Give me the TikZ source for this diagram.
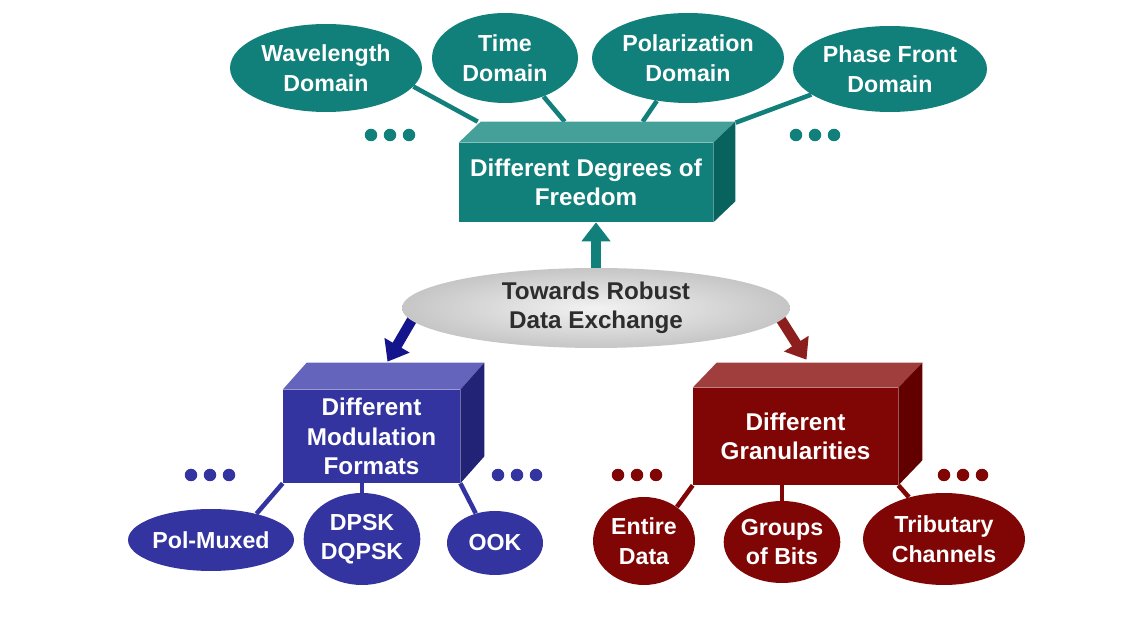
\documentclass[tikz,border=0pt]{standalone}
\usepackage{fontspec}
\setmainfont{Liberation Sans}
\usetikzlibrary{shapes.geometric,arrows.meta,calc,backgrounds}
\definecolor{dofcol}{RGB}{18,128,122}
\definecolor{doftop}{RGB}{70,160,154}
\definecolor{dofside}{RGB}{8,98,94}
\definecolor{modcol}{RGB}{52,52,160}
\definecolor{modtop}{RGB}{100,100,188}
\definecolor{modside}{RGB}{34,34,118}
\definecolor{modarrow}{RGB}{20,20,140}
\definecolor{grancol}{RGB}{128,6,6}
\definecolor{grantop}{RGB}{160,62,62}
\definecolor{granside}{RGB}{98,0,0}
\definecolor{granarrow}{RGB}{140,30,30}
\definecolor{ctrtext}{RGB}{45,45,45}
\tikzset{
  blob/.style={ellipse, fill=#1, text=white, inner sep=0pt, align=center,
    font=\fontsize{13.2}{16.8}\selectfont\bfseries},
  frontface/.style={rectangle, fill=#1, text=white, inner sep=0pt, align=center,
    font=\fontsize{13.8}{16.8}\selectfont\bfseries},
  spoke/.style={line width=2.6pt, draw=#1},
  fatarrow/.style={line width=5.8pt, draw=#1, -{Triangle[width=0.56cm,length=0.38cm]}},
  threedots/.pic={\foreach \i in {-1,0,1} \fill (\i*19,0) circle (0.125cm);}
}
% top and side faces of a solid box: node, depth, top colour, side colour
\newcommand\boxfaces[4]{%
  \fill[#3] (#1.north west) -- ++(#2) -- ($(#1.north east)+(#2)$) -- (#1.north east) -- cycle;
  \fill[#4] (#1.north east) -- ++(#2) -- ($(#1.south east)+(#2)$) -- (#1.south east) -- cycle;}
\begin{document}
\begin{tikzpicture}[x=0.02cm,y=-0.02cm]
\useasboundingbox (0,0) rectangle (1143,641);

% degrees of freedom
\node[blob=dofcol, minimum width=3.84cm, minimum height=1.76cm] (wl) at (326,68) {Wavelength\\Domain};
\node[blob=dofcol, minimum width=2.92cm, minimum height=1.8cm] (tm) at (505,58) {Time\\Domain};
\node[blob=dofcol, minimum width=3.84cm, minimum height=1.8cm] (pol) at (688,58) {Polarization\\Domain};
\node[blob=dofcol, minimum width=3.88cm, minimum height=1.72cm] (ph) at (890,69) {Phase Front\\Domain};
\node[frontface=dofcol, minimum width=5.08cm, minimum height=1.58cm] (dof) at (586,182.5) {Different Degrees of\\Freedom};
\boxfaces{dof}{22,-21}{doftop}{dofside}
\pic[dofcol] at (390,135) {threedots};
\pic[dofcol] at (815,135) {threedots};

% centre
\node[ellipse, inner sep=0pt, minimum width=7.76cm, minimum height=1.6cm,
  inner color=gray!10, outer color=gray!45, text=ctrtext, align=center,
  font=\fontsize{13.8}{16.8}\selectfont\bfseries] (ctr) at (596,308) {Towards Robust\\Data Exchange};

% modulation formats
\node[frontface=modcol, minimum width=3.54cm, minimum height=1.86cm] (mod) at (371.5,436.5) {Different\\Modulation\\Formats};
\boxfaces{mod}{24,-27}{modtop}{modside}
\node[blob=modcol, minimum width=3.32cm, minimum height=1.24cm] (pm) at (211,540) {Pol-Muxed};
\node[blob=modcol, minimum width=2.28cm, minimum height=1.84cm] (dp) at (362,539) {DPSK\\DQPSK};
\node[blob=modcol, minimum width=1.92cm, minimum height=1.28cm] (ook) at (495,543) {OOK};
\pic[modcol] at (210,475) {threedots};
\pic[modcol] at (517,475) {threedots};

% granularities
\node[frontface=grancol, minimum width=4.1cm, minimum height=1.94cm] (gran) at (795.5,436.5) {Different\\Granularities};
\boxfaces{gran}{24,-25}{grantop}{granside}
\node[blob=grancol, minimum width=2.04cm, minimum height=1.76cm] (ed) at (644,541) {Entire\\Data};
\node[blob=grancol, minimum width=2.28cm, minimum height=1.64cm] (gb) at (782,542) {Groups\\of Bits};
\node[blob=grancol, minimum width=3.24cm, minimum height=1.84cm] (tc) at (944,539) {Tributary\\Channels};
\pic[grancol] at (637,475) {threedots};
\pic[grancol] at (963,475) {threedots};

\begin{scope}[on background layer]
  \draw[spoke=dofcol] (wl.-12) -- ($(dof.north west)+(19,-21)$);
  \draw[spoke=dofcol] (tm.-45) -- ($(dof.north west)+(106,-21)$);
  \draw[spoke=dofcol] (pol.234) -- ($(dof.north west)+(184,-21)$);
  \draw[spoke=dofcol] (ph.198) -- ($(dof.north west)+(277,-20)$);

  \draw[spoke=modcol] (mod.south west) -- (pm.30);
  \draw[spoke=modcol] (mod.south -| dp.north) -- (dp.north);
  \draw[spoke=modcol] (mod.south east) -- (ook.123);

  \draw[spoke=grancol] (gran.south west) -- (ed.46);
  \draw[spoke=grancol] (gran.south -| gb.north) -- (gb.north);
  \draw[spoke=grancol] (gran.south east) -- (tc.130);

  \draw[fatarrow=dofcol] (ctr.north) -- (ctr.north |- dof.south);
  \draw[fatarrow=modarrow] ($(ctr.center)+(-183,10)$) -- ($(mod.north)+(16,-28)$);
  \draw[fatarrow=granarrow] ($(ctr.center)+(184,10)$) -- ($(gran.north)+(11,-28)$);
\end{scope}
\end{tikzpicture}
\end{document}
